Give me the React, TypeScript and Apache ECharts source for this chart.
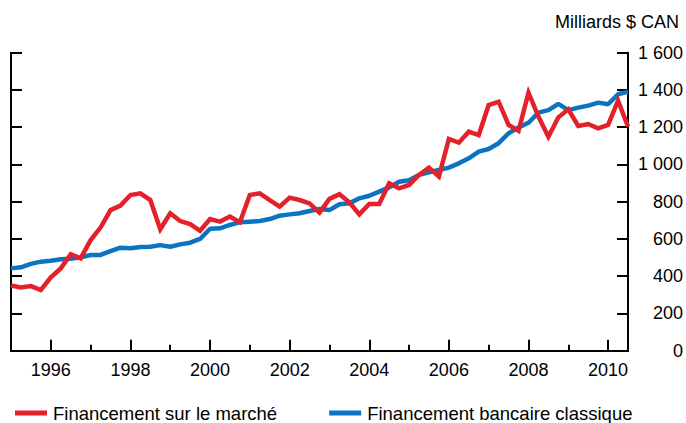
import React, { useEffect, useRef } from "react";
import * as echarts from "echarts";

// Quarterly observations, 1995 Q1 to 2010 Q3 (63 points)
const startYear = 1995;
const quarterCount = 63;
const quarters: string[] = Array.from({ length: quarterCount }, (_, i) =>
  `${startYear + Math.floor(i / 4)}T${(i % 4) + 1}`
);

const marketFinancing = [
  350, 340, 347, 326,
  394, 442, 518, 496,
  594, 661, 755, 779,
  836, 845, 809, 652,
  738, 696, 680, 644,
  707, 693, 720, 690,
  836, 845, 809, 773,
  822, 809, 791, 741,
  815, 840, 797, 732,
  788, 788, 899, 872,
  890, 944, 983, 935,
  1137, 1117, 1176, 1158,
  1319, 1337, 1212, 1181,
  1385, 1257, 1149, 1253,
  1296, 1207, 1217, 1194,
  1212, 1343, 1203,
];

const bankFinancing = [
  442, 448, 466, 478,
  483, 491, 494, 501,
  514, 514, 535, 553,
  550, 557, 558, 567,
  558, 571, 580, 600,
  655, 657, 675, 690,
  693, 696, 707, 725,
  732, 738, 750, 761,
  755, 786, 791, 818,
  832, 854, 877, 907,
  915, 944, 958, 970,
  983, 1006, 1033, 1069,
  1083, 1114, 1167, 1199,
  1224, 1278, 1292, 1325,
  1292, 1305, 1316, 1332,
  1323, 1377, 1391,
];

const seriesNames = ["Financement sur le marché", "Financement bancaire classique"];
const unitLabel = "Milliards $ CAN";

const FONT = "'Liberation Sans', Arial, Helvetica, sans-serif";
const RED = "#e4202a";
const BLUE = "#0a74c2";

export default function App() {
  const ref = useRef<HTMLDivElement>(null);

  useEffect(() => {
    if (!ref.current) return;
    const chart = echarts.init(ref.current, undefined, { renderer: "svg" });
    const axisLine = { show: true, lineStyle: { color: "#000", width: 2 } };
    const fmtY = (v: number) => {
      if (v >= 1000) {
        const s = String(v);
        return s.slice(0, s.length - 3) + " " + s.slice(s.length - 3);
      }
      return String(v);
    };
    chart.setOption({
      animation: false,
      textStyle: { fontFamily: FONT },
      title: {
        text: unitLabel,
        right: 2,
        top: 8,
        textStyle: { fontFamily: FONT, fontSize: 18, fontWeight: "normal", color: "#000" },
      },
      legend: {
        left: 10,
        top: 398.5,
        icon: "rect",
        itemWidth: 32,
        itemHeight: 5,
        itemGap: 52,
        textStyle: { fontFamily: FONT, fontSize: 18.5, lineHeight: 18, color: "#000", padding: [0, 0, 0, 1] },
        data: seriesNames,
      },
      grid: {
        left: 11,
        right: 58,
        top: 52.7,
        bottom: 72.3,
        containLabel: false,
        outerBoundsMode: "none",
      },
      xAxis: [
        {
          type: "category",
          data: quarters,
          boundaryGap: false,
          position: "bottom",
          axisLine,
          axisTick: {
            show: true,
            inside: true,
            length: 11,
            interval: (i: number) => i >= 4 && (i - 4) % 8 === 0,
            lineStyle: { color: "#000", width: 2 },
          },
          axisLabel: {
            show: true,
            interval: (i: number) => i >= 4 && (i - 4) % 8 === 0,
            formatter: (v: string) => v.slice(0, 4),
            margin: 10,
            fontFamily: FONT,
            fontSize: 18,
            color: "#000",
          },
          splitLine: { show: false },
        },
        {
          type: "category",
          data: quarters,
          boundaryGap: false,
          position: "bottom",
          axisLine,
          axisTick: {
            show: true,
            inside: true,
            length: 6,
            interval: (i: number) => i > 0 && i % 8 === 0,
            lineStyle: { color: "#000", width: 2 },
          },
          axisLabel: { show: false },
          splitLine: { show: false },
        },
      ],
      yAxis: [
        {
          type: "value",
          position: "right",
          min: 0,
          max: 1600,
          interval: 200,
          axisLine,
          axisTick: { show: true, inside: true, length: 11, lineStyle: { color: "#000", width: 2 } },
          axisLabel: {
            show: true,
            align: "right",
            margin: 55,
            formatter: fmtY,
            fontFamily: FONT,
            fontSize: 18,
            color: "#000",
          },
          splitLine: { show: false },
        },
        {
          type: "value",
          position: "left",
          min: 0,
          max: 1600,
          interval: 200,
          axisLine,
          axisTick: { show: true, inside: true, length: 11, lineStyle: { color: "#000", width: 2 } },
          axisLabel: { show: false },
          splitLine: { show: false },
        },
      ],
      series: [
        {
          name: seriesNames[0],
          type: "line",
          data: marketFinancing,
          xAxisIndex: 0,
          yAxisIndex: 0,
          symbol: "none",
          z: 3,
          lineStyle: { color: RED, width: 4.5, join: "miter" },
          itemStyle: { color: RED },
        },
        {
          name: seriesNames[1],
          type: "line",
          data: bankFinancing,
          xAxisIndex: 0,
          yAxisIndex: 0,
          symbol: "none",
          z: 2,
          lineStyle: { color: BLUE, width: 4.5 },
          itemStyle: { color: BLUE },
        },
      ],
    });
    return () => chart.dispose();
  }, []);

  return <div ref={ref} style={{ width: 686, height: 423, position: "absolute", left: 0, top: 0 }} />;
}
